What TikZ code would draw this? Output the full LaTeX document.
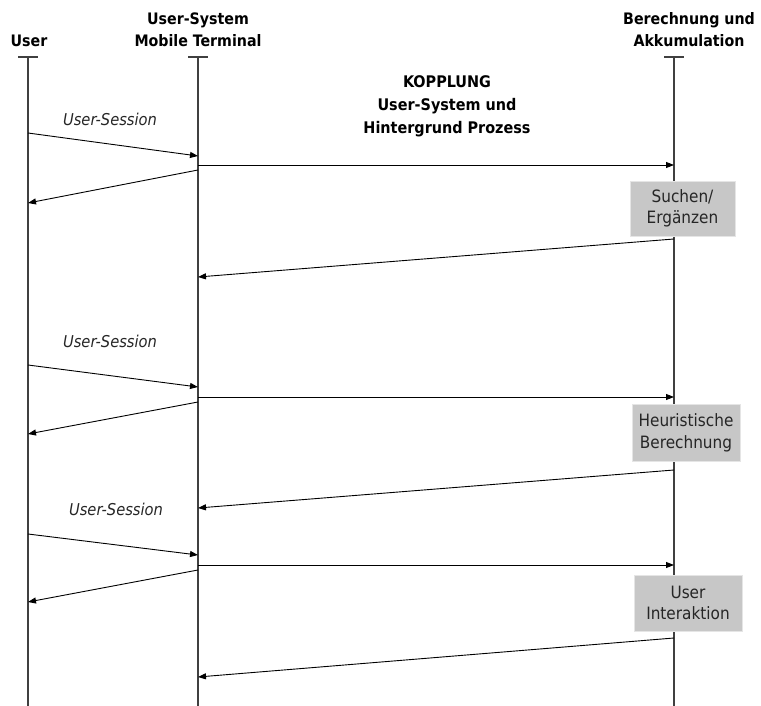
\documentclass[tikz,border=0pt]{standalone}
\usepackage{fontspec}
\setmainfont{DejaVu Sans Condensed}
\usetikzlibrary{arrows.meta}
\begin{document}
\begin{tikzpicture}[x=1pt,y=-1pt,
  lifeline/.style={draw=black!75,line width=1.4pt},
  msg/.style={draw=black,line width=0.9pt,-{Triangle[length=8pt,width=6pt]}},
  header/.style={font=\fontsize{15.8}{22}\selectfont\bfseries,align=center,inner sep=0pt},
  actbox/.style={fill=black!22,draw=black!10,line width=0.5pt,align=center,font=\fontsize{17}{21.5}\selectfont,text=black!85,inner sep=0pt},
  sesslabel/.style={font=\fontsize{16.3}{18}\selectfont\itshape,text=black!85,inner sep=0pt}]
\useasboundingbox (0,0) rectangle (761,706);
% lifelines
\foreach \n/\x in {u/28,m/198,b/674}{
  \coordinate (\n top) at (\x,57);
  \coordinate (\n bot) at (\x,706);
  \draw[lifeline] (\n top) -- (\n bot);
  \draw[lifeline] (\x-10,57) -- (\x+10,57);
}
% headers
\node[header,anchor=base] (hu) at (29,47) {User};
\node[header,anchor=base] (hm) at (198,47) {User-System\\Mobile Terminal};
\node[header,anchor=base] (hb) at (689,47) {Berechnung und\\Akkumulation};
\node[header,anchor=base,font=\fontsize{16}{23}\selectfont\bfseries] (kop) at (447,134) {KOPPLUNG\\User-System und\\Hintergrund Prozess};
% round 1
\node[sesslabel] (s1) at (110,119) {User-Session};
\coordinate (u1) at (28,133); \coordinate (m1) at (198,156);
\draw[msg] (u1) -- (m1);
\coordinate (m2) at (198,165); \coordinate (b2) at (674,165);
\draw[msg] (m2) -- (b2);
\coordinate (m3) at (198,170); \coordinate (u3) at (28,203);
\draw[msg] (m3) -- (u3);
\node[actbox,minimum width=105pt,minimum height=55pt] (box1) at (682.5,208.5) {Suchen/\\Ergänzen};
\coordinate (b4) at (674,239); \coordinate (m4) at (198,277);
\draw[msg] (b4) -- (m4);
% round 2
\node[sesslabel] (s2) at (110,341) {User-Session};
\coordinate (u5) at (28,365); \coordinate (m5) at (198,387);
\draw[msg] (u5) -- (m5);
\coordinate (m6) at (198,397); \coordinate (b6) at (674,397);
\draw[msg] (m6) -- (b6);
\coordinate (m7) at (198,402); \coordinate (u7) at (28,434);
\draw[msg] (m7) -- (u7);
\node[actbox,minimum width=108pt,minimum height=57pt] (box2) at (686,433) {Heuristische\\Berechnung};
\coordinate (b8) at (674,470); \coordinate (m8) at (198,508);
\draw[msg] (b8) -- (m8);
% round 3
\node[sesslabel] (s3) at (116,509) {User-Session};
\coordinate (u9) at (28,534); \coordinate (m9) at (198,555);
\draw[msg] (u9) -- (m9);
\coordinate (m10) at (198,565); \coordinate (b10) at (674,565);
\draw[msg] (m10) -- (b10);
\coordinate (m11) at (198,570); \coordinate (u11) at (28,602);
\draw[msg] (m11) -- (u11);
\node[actbox,minimum width=108pt,minimum height=56pt] (box3) at (688,603) {User\\Interaktion};
\coordinate (b12) at (674,638); \coordinate (m12) at (198,677);
\draw[msg] (b12) -- (m12);
\end{tikzpicture}
\end{document}
